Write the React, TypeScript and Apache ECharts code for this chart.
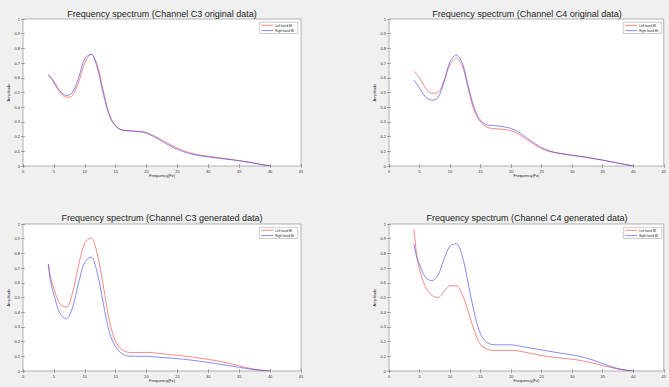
import React, { useEffect, useRef } from "react";
import * as echarts from "echarts";

const freq = [4.1, 4.5, 5, 6, 7, 8, 9, 10, 11, 12, 13, 14, 15, 16, 17, 18, 19, 20, 21, 22, 23, 24, 25, 26, 27, 28, 29, 30, 31, 32, 33, 34, 35, 36, 37, 38, 39, 40];

const c3OrigLeft = [0.62, 0.6, 0.565, 0.5, 0.468, 0.48, 0.57, 0.7, 0.76, 0.69, 0.51, 0.35, 0.275, 0.245, 0.24, 0.238, 0.235, 0.228, 0.21, 0.188, 0.165, 0.142, 0.122, 0.104, 0.09, 0.08, 0.072, 0.066, 0.06, 0.055, 0.049, 0.043, 0.037, 0.03, 0.023, 0.015, 0.007, 0];
const c3OrigRight = [0.62, 0.605, 0.575, 0.51, 0.48, 0.5, 0.6, 0.73, 0.76, 0.67, 0.49, 0.34, 0.27, 0.245, 0.24, 0.236, 0.232, 0.222, 0.203, 0.18, 0.156, 0.133, 0.113, 0.097, 0.084, 0.075, 0.067, 0.061, 0.056, 0.051, 0.046, 0.041, 0.035, 0.029, 0.022, 0.015, 0.007, 0];
const c4OrigLeft = [0.645, 0.625, 0.6, 0.53, 0.495, 0.5, 0.58, 0.69, 0.733, 0.68, 0.52, 0.37, 0.3, 0.265, 0.255, 0.252, 0.248, 0.24, 0.222, 0.195, 0.168, 0.14, 0.118, 0.102, 0.092, 0.085, 0.079, 0.073, 0.067, 0.061, 0.054, 0.047, 0.04, 0.032, 0.024, 0.016, 0.008, 0];
const c4OrigRight = [0.585, 0.56, 0.53, 0.47, 0.448, 0.465, 0.57, 0.71, 0.755, 0.7, 0.54, 0.39, 0.31, 0.28, 0.275, 0.272, 0.265, 0.255, 0.236, 0.208, 0.178, 0.15, 0.126, 0.107, 0.094, 0.086, 0.079, 0.073, 0.067, 0.061, 0.054, 0.047, 0.04, 0.032, 0.024, 0.016, 0.008, 0];
const c3GenLeft = [0.727, 0.63, 0.56, 0.455, 0.435, 0.53, 0.72, 0.87, 0.905, 0.8, 0.58, 0.34, 0.2, 0.145, 0.128, 0.125, 0.126, 0.127, 0.125, 0.12, 0.115, 0.11, 0.107, 0.102, 0.097, 0.091, 0.085, 0.079, 0.072, 0.064, 0.055, 0.045, 0.035, 0.025, 0.016, 0.009, 0.004, 0];
const c3GenRight = [0.727, 0.6, 0.52, 0.39, 0.355, 0.43, 0.6, 0.74, 0.775, 0.67, 0.46, 0.26, 0.165, 0.118, 0.102, 0.1, 0.1, 0.1, 0.098, 0.094, 0.09, 0.087, 0.084, 0.08, 0.075, 0.07, 0.064, 0.058, 0.052, 0.045, 0.039, 0.032, 0.025, 0.018, 0.012, 0.007, 0.003, 0];
const c4GenLeft = [0.965, 0.8, 0.69, 0.57, 0.515, 0.5, 0.54, 0.58, 0.58, 0.52, 0.4, 0.27, 0.18, 0.15, 0.14, 0.14, 0.14, 0.14, 0.137, 0.13, 0.122, 0.113, 0.105, 0.098, 0.093, 0.088, 0.084, 0.08, 0.074, 0.067, 0.058, 0.048, 0.037, 0.027, 0.018, 0.01, 0.004, 0];
const c4GenRight = [0.865, 0.78, 0.725, 0.635, 0.615, 0.65, 0.76, 0.85, 0.865, 0.78, 0.59, 0.39, 0.25, 0.195, 0.18, 0.178, 0.178, 0.178, 0.172, 0.165, 0.157, 0.15, 0.143, 0.136, 0.129, 0.122, 0.116, 0.11, 0.102, 0.092, 0.08, 0.066, 0.05, 0.035, 0.022, 0.012, 0.005, 0];

const titles = [
  "Frequency spectrum (Channel C3 original data)",
  "Frequency spectrum (Channel C4 original data)",
  "Frequency spectrum (Channel C3 generated data)",
  "Frequency spectrum (Channel C4 generated data)",
];
const leftSeries = [c3OrigLeft, c4OrigLeft, c3GenLeft, c4GenLeft];
const rightSeries = [c3OrigRight, c4OrigRight, c3GenRight, c4GenRight];
const legendNames = ["Left hand MI", "Right hand MI"];
const xName = "Frequency(Fz)";
const yName = "Amplitude";

const FONT = "'Liberation Sans', Arial, Helvetica, sans-serif";
const RED = "#f03a3a";
const BLUE = "#3a3af0";
const COLORS = [RED, BLUE];

const grids = [
  { left: 23, top: 19, width: 278, height: 147 },
  { left: 389, top: 19, width: 276, height: 147 },
  { left: 23, top: 224, width: 278, height: 147 },
  { left: 389, top: 224, width: 276, height: 147 },
];
const titleTops = [9.5, 9.5, 213, 213];

function legendGraphic(g: { left: number; top: number; width: number }) {
  const right = g.left + g.width - 3.2;
  const w = 38.5;
  const h = 11.2;
  const x0 = right - w;
  const y0 = g.top + 3.3;
  const children: any[] = [
    { type: "rect", shape: { x: x0, y: y0, width: w, height: h }, style: { fill: "#fff", stroke: "#9a9a9a", lineWidth: 0.5 } },
  ];
  legendNames.forEach((name, k) => {
    const y = y0 + 3 + k * 5.3;
    children.push({ type: "line", shape: { x1: x0 + 2, y1: y, x2: x0 + 14, y2: y }, style: { stroke: COLORS[k], lineWidth: 0.6 } });
    children.push({
      type: "text", x: x0 + 16, y,
      style: { text: name, fontSize: 3, fontFamily: FONT, fill: "#222", verticalAlign: "middle", align: "left" },
    });
  });
  return { type: "group", silent: true, children };
}

export default function App() {
  const ref = useRef<HTMLDivElement>(null);
  useEffect(() => {
    if (!ref.current) return;
    const chart = echarts.init(ref.current, undefined, { renderer: "svg" });
    const xAxes: any[] = [];
    const yAxes: any[] = [];
    const series: any[] = [];
    grids.forEach((g, i) => {
      const tick = { show: true, inside: true, length: 2, lineStyle: { color: "#777", width: 0.6 } };
      xAxes.push({
        type: "value", gridIndex: i, min: 0, max: 45, interval: 5, position: "bottom",
        axisLine: { show: false }, axisTick: tick, splitLine: { show: false },
        axisLabel: { fontSize: 4, color: "#333", margin: 3, fontFamily: FONT },
        name: xName, nameLocation: "middle", nameGap: 7,
        nameTextStyle: { fontSize: 4, color: "#222", fontFamily: FONT },
      });
      xAxes.push({
        type: "value", gridIndex: i, min: 0, max: 45, interval: 5, position: "top",
        axisLine: { show: false }, axisTick: tick, splitLine: { show: false }, axisLabel: { show: false },
      });
      yAxes.push({
        type: "value", gridIndex: i, min: 0, max: 1, interval: 0.1, position: "left",
        axisLine: { show: false }, axisTick: tick, splitLine: { show: false },
        axisLabel: { fontSize: 4, color: "#333", margin: 3, fontFamily: FONT, formatter: (v: number) => String(+v.toFixed(1)) },
        name: yName, nameLocation: "middle", nameGap: 10,
        nameTextStyle: { fontSize: 4, color: "#222", fontFamily: FONT },
      });
      yAxes.push({
        type: "value", gridIndex: i, min: 0, max: 1, interval: 0.1, position: "right",
        axisLine: { show: false }, axisTick: tick, splitLine: { show: false }, axisLabel: { show: false },
      });
      const mk = (name: string, vals: number[], color: string) => ({
        type: "line", name, xAxisIndex: 2 * i, yAxisIndex: 2 * i,
        data: freq.map((f, k) => [f, vals[k]]),
        showSymbol: false, symbol: "none", smooth: 0.35,
        lineStyle: { color, width: 0.6 }, itemStyle: { color },
      });
      series.push(mk(legendNames[0], leftSeries[i], RED));
      series.push(mk(legendNames[1], rightSeries[i], BLUE));
    });

    chart.setOption({
      animation: false,
      backgroundColor: "#f0f0f0",
      title: grids.map((g, i) => ({
        text: titles[i], left: g.left + g.width / 2, top: titleTops[i], textAlign: "center", padding: 0,
        textStyle: { fontSize: 9, fontWeight: "normal", color: "#222", fontFamily: FONT },
      })),
      grid: grids.map((g) => ({ ...g, show: true, backgroundColor: "#fff", borderColor: "#a0a0a0", borderWidth: 0.8 })),
      xAxis: xAxes,
      yAxis: yAxes,
      series,
      graphic: grids.map((g) => legendGraphic(g)),
    });
    return () => chart.dispose();
  }, []);
  return <div ref={ref} style={{ position: "absolute", left: 0, top: 0, width: 669, height: 387 }} />;
}
